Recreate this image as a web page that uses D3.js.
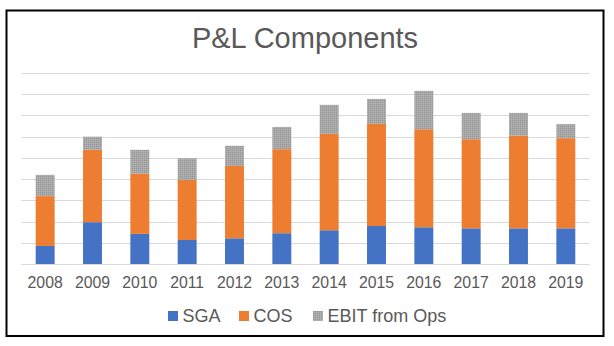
<!DOCTYPE html>
<html>
<head>
<meta charset="utf-8">
<script src="https://cdn.jsdelivr.net/npm/d3@7"></script>
<style>
  body { margin: 0; background: #fff; }
  svg text { font-family: "Liberation Sans", Arial, sans-serif; fill: #595959; }
</style>
</head>
<body>
<div id="chart"></div>
<script>
var years = ["2008","2009","2010","2011","2012","2013","2014","2015","2016","2017","2018","2019"];
var sga  = [0.85, 1.97, 1.42, 1.13, 1.21, 1.45, 1.59, 1.79, 1.73, 1.68, 1.68, 1.68];
var cos  = [2.35, 3.41, 2.83, 2.83, 3.41, 3.96, 4.54, 4.81, 4.62, 4.20, 4.36, 4.25];
var ebit = [1.00, 0.62, 1.13, 1.02, 0.95, 1.05, 1.37, 1.18, 1.81, 1.24, 1.08, 0.66];
var seriesNames = ["SGA", "COS", "EBIT from Ops"];
var gridTicks = [0,1,2,3,4,5,6,7,8,9];

var rows = years.map(function(y, i){
    return { year: y, "SGA": sga[i], "COS": cos[i], "EBIT from Ops": ebit[i] };
});

var svg = d3.select("#chart").append("svg")
    .attr("width", 614)
    .attr("height", 346);

// grey dotted fill like the original
var defs = svg.append("defs");
var pat = defs.append("pattern")
    .attr("id", "ebitPat")
    .attr("width", 2).attr("height", 2)
    .attr("patternUnits", "userSpaceOnUse");
pat.append("rect").attr("width", 2).attr("height", 2).attr("fill", "#a8a8a8");
pat.append("rect").attr("width", 1).attr("height", 1).attr("fill", "#969696");
pat.append("rect").attr("x", 1).attr("y", 1).attr("width", 1).attr("height", 1).attr("fill", "#b4b4b4");

var colors = d3.scaleOrdinal()
    .domain(seriesNames)
    .range(["#4472c4", "#ed7d31", "url(#ebitPat)"]);

svg.append("rect")
    .attr("x", 6.5).attr("y", 10.5)
    .attr("width", 597).attr("height", 325.5)
    .attr("fill", "#fff")
    .attr("stroke", "#000")
    .attr("stroke-width", 2);

svg.append("text")
    .attr("x", 305).attr("y", 48)
    .attr("text-anchor", "middle")
    .style("font-size", "29px")
    .text("P&L Components");

var x = d3.scaleBand()
    .domain(years)
    .range([21.5, 589.5])
    .paddingInner(0.6)
    .paddingOuter(0.3);

var y = d3.scaleLinear()
    .domain([0, 9])
    .range([264, 73]);

svg.append("g").selectAll("line")
    .data(gridTicks)
    .enter()
    .append("line")
    .attr("x1", 21.5).attr("x2", 589.5)
    .attr("y1", function(d){ return Math.round(y(d)) + 0.5; })
    .attr("y2", function(d){ return Math.round(y(d)) + 0.5; })
    .attr("stroke", "#d9d9d9")
    .attr("stroke-width", 1.2);

var stacked = d3.stack().keys(seriesNames)(rows);

svg.append("g").selectAll("g")
    .data(stacked)
    .enter()
    .append("g")
    .attr("fill", function(d){ return colors(d.key); })
    .selectAll("rect")
    .data(function(d){ return d; })
    .enter()
    .append("rect")
    .attr("x", function(d){ return x(d.data.year); })
    .attr("width", x.bandwidth())
    .attr("y", function(d){ return y(d[1]); })
    .attr("height", function(d){ return y(d[0]) - y(d[1]); });

var xAxis = svg.append("g")
    .attr("transform", "translate(0,264)")
    .call(d3.axisBottom(x).tickSize(0).tickPadding(13));
xAxis.select(".domain").remove();
xAxis.selectAll("text")
    .style("font-size", "15.8px")
    .style("font-family", "'Liberation Sans', Arial, sans-serif")
    .attr("fill", "#595959");

var legendX = [168, 239, 313];
var legend = svg.append("g").selectAll("g")
    .data(seriesNames)
    .enter()
    .append("g")
    .attr("transform", function(d, i){ return "translate(" + legendX[i] + ",311)"; });
legend.append("rect")
    .attr("width", 10).attr("height", 10)
    .attr("fill", function(d){ return colors(d); });
legend.append("text")
    .attr("x", 14.5).attr("y", 10.5)
    .style("font-size", "18px")
    .text(function(d){ return d; });
</script>
</body>
</html>
